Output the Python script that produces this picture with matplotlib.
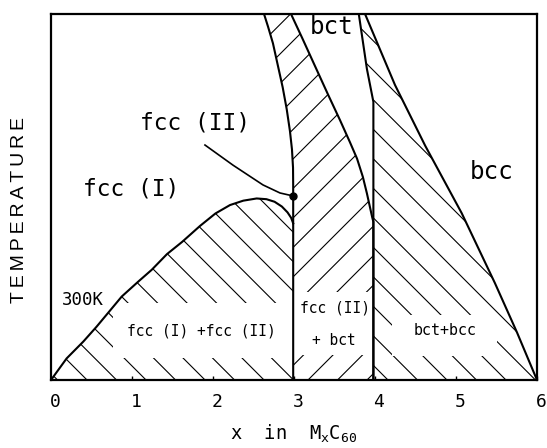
import matplotlib
matplotlib.use("Agg")
import matplotlib.pyplot as plt
from matplotlib.patches import Polygon, Rectangle
from matplotlib.transforms import ScaledTranslation
import numpy as np

# ---------------- data ----------------
# fcc(I) / fcc(I)+fcc(II) boundary (dome)
dome_x = [0.0, 0.193, 0.399, 0.564, 0.873, 1.078, 1.243, 1.432, 1.617, 1.84, 2.03, 2.21, 2.374, 2.539, 2.66, 2.76, 2.85, 2.92, 2.965, 2.99]
dome_y = [0.0, 0.059, 0.105, 0.146, 0.228, 0.269, 0.301, 0.344, 0.377, 0.421, 0.455, 0.478, 0.490, 0.496, 0.494, 0.487, 0.474, 0.458, 0.443, 0.428]

# fcc(II) / fcc(II)+bct boundary (ends with vertical line at x = 3)
c1_x = [2.63, 2.68, 2.74, 2.80, 2.86, 2.91, 2.95, 2.975, 2.988, 2.99, 2.99]
c1_y = [1.0, 0.965, 0.92, 0.86, 0.80, 0.74, 0.68, 0.63, 0.58, 0.53, 0.0]

# fcc(II)+bct / bct boundary (ends with vertical line at x = 4)
c2_x = [2.963, 3.10, 3.265, 3.42, 3.568, 3.69, 3.778, 3.85, 3.90, 3.94, 3.965, 3.98, 3.98]
c2_y = [1.0, 0.935, 0.855, 0.78, 0.71, 0.65, 0.605, 0.555, 0.51, 0.47, 0.445, 0.432, 0.0]

# bct / bct+bcc boundary
c3_x = [3.80, 3.90, 3.98, 3.98]
c3_y = [1.0, 0.85, 0.76, 0.0]

# bct+bcc / bcc boundary
c4_x = [3.877, 4.247, 4.62, 5.07, 5.48, 5.753, 6.0]
c4_y = [1.0, 0.806, 0.640, 0.456, 0.265, 0.13, 0.0]

# leader line from the "fcc (II)" label to the point
lead_x = [1.901, 2.247, 2.617, 2.827, 2.926, 2.99]
lead_y = [0.642, 0.587, 0.533, 0.511, 0.506, 0.503]
point_x, point_y = 2.99, 0.503

x_ticks = [0, 1, 2, 3, 4, 5, 6]
x_ticklabels = ["0", "1", "2", "3", "4", "5", "6"]

MONO = ["DejaVu Sans Mono"]
SANS = ["Liberation Sans", "DejaVu Sans"]
plt.rcParams["mathtext.fontset"] = "custom"
plt.rcParams["mathtext.rm"] = "DejaVu Sans Mono"
plt.rcParams["mathtext.it"] = "DejaVu Sans Mono"

fig = plt.figure(figsize=(5.47, 4.48), dpi=100)
ax = fig.add_axes([51 / 547, 68 / 448, 486 / 547, 366 / 448])
ax.set_xlim(0, 6)
ax.set_ylim(0, 1)

# axes pixel scale -> slope of 45-degree hatch lines in data units
W_PX, H_PX = 486.0, 366.0
S45 = (1.0 / H_PX) / (6.0 / W_PX)
STEP = 29.5 * 6.0 / W_PX


def region(xs, ys):
    p = Polygon(np.column_stack([xs, ys]), closed=True, facecolor="none",
                edgecolor="none", zorder=1)
    ax.add_patch(p)
    return p


def hatch(patch, x0, slope):
    for k in range(-40, 40):
        xi = x0 + k * STEP
        xs = np.array([xi - 8, xi + 8])
        ys = slope * (xs - xi)
        ln, = ax.plot(xs, ys, color="black", lw=0.8, zorder=2,
                      solid_capstyle="butt")
        ln.set_clip_path(patch)


# regions
left_poly = region(dome_x + [2.99], dome_y + [0.0])
mid_poly = region(c1_x + c2_x[::-1], c1_y + c2_y[::-1])
right_poly = region(c3_x + c4_x[::-1], c3_y + c4_y[::-1])

hatch(left_poly, 0.445, -S45)
hatch(mid_poly, 3.173, S45)
hatch(right_poly, 4.16, -S45)

# white label masks over the hatching
for (mx0, mx1, my0, my1) in [(0.765, 2.99, 0.060, 0.210),
                             (2.99, 3.98, 0.068, 0.240),
                             (4.21, 5.51, 0.066, 0.178)]:
    ax.add_patch(Rectangle((mx0, my0), mx1 - mx0, my1 - my0,
                           facecolor="white", edgecolor="none", zorder=3))

# phase boundaries
LW = 1.5
for xs, ys in [(dome_x, dome_y), (c1_x, c1_y), (c2_x, c2_y),
               (c3_x, c3_y), (c4_x, c4_y)]:
    ax.plot(xs, ys, color="black", lw=LW, zorder=4, solid_joinstyle="round")
ax.plot(lead_x, lead_y, color="black", lw=1.2, zorder=4)
ax.plot([point_x], [point_y], "o", color="black", ms=5, zorder=5)

# labels
big = dict(family=MONO, ha="center", va="center", zorder=6)
ax.text(0.988, 0.522, "fcc (I)", fontsize=16.5, **big)
ax.text(1.778, 0.702, "fcc (II)", fontsize=16.5, **big)
ax.text(3.463, 0.965, "bct", fontsize=17.5, **big)
ax.text(5.444, 0.568, "bcc", fontsize=17.5, **big)
ax.text(0.389, 0.219, "300K", fontsize=12.5, **big)
ax.text(1.852, 0.134, "fcc (I) +fcc (II)", fontsize=10.5, **big)
ax.text(3.506, 0.198, "fcc (II)", fontsize=10.5, **big)
ax.text(3.488, 0.107, "+ bct", fontsize=10.5, **big)
ax.text(4.864, 0.134, "bct+bcc", fontsize=10.8, **big)

# axes styling
for s in ax.spines.values():
    s.set_linewidth(1.6)
ax.set_yticks([])
ax.set_xticks(x_ticks)
ax.set_xticklabels(x_ticklabels, family=MONO, fontsize=13)
ax.tick_params(axis="x", direction="in", length=3, width=1, pad=9)
off = ScaledTranslation(4 / 100, 0, fig.dpi_scale_trans)
for lab in ax.get_xticklabels():
    lab.set_transform(lab.get_transform() + off)

ax.set_xlabel(r"x  in  M$_\mathregular{x}$C$_\mathregular{60}$",
              family=MONO, fontsize=13.5, va="top")
ax.xaxis.set_label_coords(0.499, -0.118)
ax.set_ylabel("T\u2009E\u2009M\u2009P\u2009E\u2009R\u2009A\u2009T\u2009U\u2009R\u2009E",
              family=SANS, fontsize=14, ha="center", va="center")
ax.yaxis.set_label_coords(-0.064, 0.4645)

fig.savefig("out.png", dpi=100)
